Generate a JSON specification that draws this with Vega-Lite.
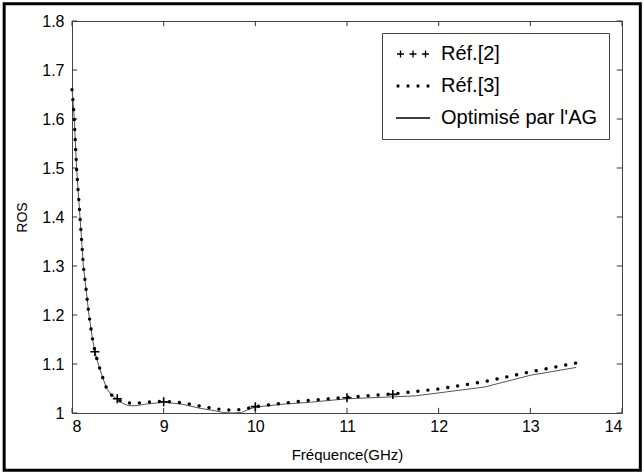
{
  "$schema": "https://vega.github.io/schema/vega-lite/v6.json",
  "width": 550,
  "height": 392,
  "autosize": {"type": "none"},
  "padding": {"left": 72, "top": 21, "right": 22, "bottom": 61},
  "background": "white",
  "config": {
    "font": "Liberation Sans",
    "view": {"stroke": "#444", "strokeWidth": 1},
    "axis": {"domain": false, "ticks": false, "grid": false, "labelFont": "Liberation Sans", "labelColor": "black", "labelFontSize": 16, "titleFont": "Liberation Sans", "titleFontWeight": "normal", "titleColor": "black"}
  },
  "datasets": {
    "curves": [
      {"series": "Optimisé par l'AG", "f": 8.0, "ros": 1.66},
      {"series": "Optimisé par l'AG", "f": 8.014, "ros": 1.63},
      {"series": "Optimisé par l'AG", "f": 8.025, "ros": 1.6},
      {"series": "Optimisé par l'AG", "f": 8.05, "ros": 1.5},
      {"series": "Optimisé par l'AG", "f": 8.087, "ros": 1.4},
      {"series": "Optimisé par l'AG", "f": 8.124, "ros": 1.3},
      {"series": "Optimisé par l'AG", "f": 8.155, "ros": 1.25},
      {"series": "Optimisé par l'AG", "f": 8.185, "ros": 1.2},
      {"series": "Optimisé par l'AG", "f": 8.22, "ros": 1.155},
      {"series": "Optimisé par l'AG", "f": 8.25, "ros": 1.125},
      {"series": "Optimisé par l'AG", "f": 8.287, "ros": 1.1},
      {"series": "Optimisé par l'AG", "f": 8.33, "ros": 1.075},
      {"series": "Optimisé par l'AG", "f": 8.378, "ros": 1.05},
      {"series": "Optimisé par l'AG", "f": 8.43, "ros": 1.037},
      {"series": "Optimisé par l'AG", "f": 8.494, "ros": 1.028},
      {"series": "Optimisé par l'AG", "f": 8.55, "ros": 1.02},
      {"series": "Optimisé par l'AG", "f": 8.614, "ros": 1.015},
      {"series": "Optimisé par l'AG", "f": 8.7, "ros": 1.015},
      {"series": "Optimisé par l'AG", "f": 8.8, "ros": 1.018},
      {"series": "Optimisé par l'AG", "f": 9.0, "ros": 1.022},
      {"series": "Optimisé par l'AG", "f": 9.2, "ros": 1.018},
      {"series": "Optimisé par l'AG", "f": 9.4, "ros": 1.0095},
      {"series": "Optimisé par l'AG", "f": 9.55, "ros": 1.005},
      {"series": "Optimisé par l'AG", "f": 9.65, "ros": 1.001},
      {"series": "Optimisé par l'AG", "f": 9.75, "ros": 1.0},
      {"series": "Optimisé par l'AG", "f": 9.85, "ros": 1.001},
      {"series": "Optimisé par l'AG", "f": 9.92, "ros": 1.007},
      {"series": "Optimisé par l'AG", "f": 10.0, "ros": 1.012},
      {"series": "Optimisé par l'AG", "f": 10.3, "ros": 1.018},
      {"series": "Optimisé par l'AG", "f": 10.6, "ros": 1.022},
      {"series": "Optimisé par l'AG", "f": 11.0, "ros": 1.029},
      {"series": "Optimisé par l'AG", "f": 11.5, "ros": 1.033},
      {"series": "Optimisé par l'AG", "f": 11.75, "ros": 1.035},
      {"series": "Optimisé par l'AG", "f": 12.0, "ros": 1.041},
      {"series": "Optimisé par l'AG", "f": 12.5, "ros": 1.053},
      {"series": "Optimisé par l'AG", "f": 13.0, "ros": 1.077},
      {"series": "Optimisé par l'AG", "f": 13.5, "ros": 1.093},

      {"series": "Réf.[3]", "f": 8.0, "ros": 1.66},
      {"series": "Réf.[3]", "f": 8.014, "ros": 1.63},
      {"series": "Réf.[3]", "f": 8.025, "ros": 1.6},
      {"series": "Réf.[3]", "f": 8.05, "ros": 1.5},
      {"series": "Réf.[3]", "f": 8.087, "ros": 1.4},
      {"series": "Réf.[3]", "f": 8.124, "ros": 1.3},
      {"series": "Réf.[3]", "f": 8.155, "ros": 1.25},
      {"series": "Réf.[3]", "f": 8.185, "ros": 1.2},
      {"series": "Réf.[3]", "f": 8.22, "ros": 1.155},
      {"series": "Réf.[3]", "f": 8.25, "ros": 1.125},
      {"series": "Réf.[3]", "f": 8.287, "ros": 1.1},
      {"series": "Réf.[3]", "f": 8.33, "ros": 1.075},
      {"series": "Réf.[3]", "f": 8.378, "ros": 1.05},
      {"series": "Réf.[3]", "f": 8.43, "ros": 1.037},
      {"series": "Réf.[3]", "f": 8.494, "ros": 1.028},
      {"series": "Réf.[3]", "f": 8.56, "ros": 1.021},
      {"series": "Réf.[3]", "f": 8.7, "ros": 1.02},
      {"series": "Réf.[3]", "f": 8.8, "ros": 1.022},
      {"series": "Réf.[3]", "f": 9.0, "ros": 1.024},
      {"series": "Réf.[3]", "f": 9.2, "ros": 1.021},
      {"series": "Réf.[3]", "f": 9.4, "ros": 1.014},
      {"series": "Réf.[3]", "f": 9.55, "ros": 1.009},
      {"series": "Réf.[3]", "f": 9.7, "ros": 1.006},
      {"series": "Réf.[3]", "f": 9.85, "ros": 1.007},
      {"series": "Réf.[3]", "f": 10.0, "ros": 1.013},
      {"series": "Réf.[3]", "f": 10.3, "ros": 1.02},
      {"series": "Réf.[3]", "f": 10.6, "ros": 1.026},
      {"series": "Réf.[3]", "f": 11.0, "ros": 1.032},
      {"series": "Réf.[3]", "f": 11.5, "ros": 1.039},
      {"series": "Réf.[3]", "f": 12.0, "ros": 1.049},
      {"series": "Réf.[3]", "f": 12.5, "ros": 1.064},
      {"series": "Réf.[3]", "f": 13.0, "ros": 1.084},
      {"series": "Réf.[3]", "f": 13.5, "ros": 1.102},

      {"series": "Réf.[2]", "f": 8.25, "ros": 1.125},
      {"series": "Réf.[2]", "f": 8.494, "ros": 1.029},
      {"series": "Réf.[2]", "f": 9.0, "ros": 1.023},
      {"series": "Réf.[2]", "f": 10.0, "ros": 1.013},
      {"series": "Réf.[2]", "f": 11.0, "ros": 1.031},
      {"series": "Réf.[2]", "f": 11.5, "ros": 1.038}
    ],
    "xticks": [{"t": 8}, {"t": 9}, {"t": 10}, {"t": 11}, {"t": 12}, {"t": 13}, {"t": 14}],
    "yticks": [{"t": 1}, {"t": 1.1}, {"t": 1.2}, {"t": 1.3}, {"t": 1.4}, {"t": 1.5}, {"t": 1.6}, {"t": 1.7}, {"t": 1.8}]
  },
  "layer": [
    {
      "data": {"name": "curves"},
      "transform": [{"filter": "datum.series === \"Optimisé par l'AG\""}],
      "mark": {"type": "line", "color": "#555", "strokeWidth": 1},
      "encoding": {
        "x": {"field": "f", "type": "quantitative", "scale": {"domain": [8, 14], "nice": false, "zero": false},
              "axis": {"orient": "bottom", "values": [8, 9, 10, 11, 12, 13, 14], "labelPadding": 5, "title": "Fréquence(GHz)", "titleFontSize": 15, "titlePadding": 13}},
        "y": {"field": "ros", "type": "quantitative", "scale": {"domain": [1, 1.8], "nice": false, "zero": false},
              "axis": {"orient": "left", "values": [1, 1.1, 1.2, 1.3, 1.4, 1.5, 1.6, 1.7, 1.8], "format": "~g", "labelPadding": 8, "title": "ROS", "titleFontSize": 14, "titlePadding": 12}}
      }
    },
    {
      "data": {"name": "xticks"},
      "mark": {"type": "rule", "color": "#333", "strokeWidth": 1},
      "encoding": {
        "x": {"field": "t", "type": "quantitative", "axis": null},
        "y": {"datum": 1, "type": "quantitative", "axis": null},
        "y2": {"datum": 1.0105}
      }
    },
    {
      "data": {"name": "xticks"},
      "mark": {"type": "rule", "color": "#333", "strokeWidth": 1},
      "encoding": {
        "x": {"field": "t", "type": "quantitative", "axis": null},
        "y": {"datum": 1.7895, "type": "quantitative", "axis": null},
        "y2": {"datum": 1.8}
      }
    },
    {
      "data": {"name": "yticks"},
      "mark": {"type": "rule", "color": "#333", "strokeWidth": 1},
      "encoding": {
        "y": {"field": "t", "type": "quantitative", "axis": null},
        "x": {"datum": 8, "type": "quantitative", "axis": null},
        "x2": {"datum": 8.057}
      }
    },
    {
      "data": {"name": "yticks"},
      "mark": {"type": "rule", "color": "#333", "strokeWidth": 1},
      "encoding": {
        "y": {"field": "t", "type": "quantitative", "axis": null},
        "x": {"datum": 13.943, "type": "quantitative", "axis": null},
        "x2": {"datum": 14}
      }
    },
    {
      "data": {"name": "curves"},
      "transform": [{"filter": "datum.series === 'Réf.[3]'"}],
      "mark": {"type": "line", "color": "black", "strokeWidth": 3.4, "strokeCap": "round", "strokeDash": [0.01, 10]},
      "encoding": {
        "x": {"field": "f", "type": "quantitative", "axis": null},
        "y": {"field": "ros", "type": "quantitative", "axis": null}
      }
    },
    {
      "data": {"name": "curves"},
      "transform": [{"filter": "datum.series === 'Réf.[2]'"}],
      "mark": {"type": "point", "shape": "M-1,0H1M0,-1V1", "size": 81, "filled": false, "stroke": "black", "strokeWidth": 1.6, "opacity": 1},
      "encoding": {
        "x": {"field": "f", "type": "quantitative", "axis": null},
        "y": {"field": "ros", "type": "quantitative", "axis": null}
      }
    },
    {
      "data": {"name": "curves"},
      "transform": [{"filter": "datum.ros > 5"}],
      "mark": {"type": "point", "filled": false, "color": "black", "strokeWidth": 1.3, "opacity": 1},
      "encoding": {
        "x": {"field": "f", "type": "quantitative", "axis": null},
        "y": {"field": "ros", "type": "quantitative", "axis": null},
        "shape": {
          "field": "series", "type": "nominal",
          "scale": {
            "domain": ["Réf.[2]", "Réf.[3]", "Optimisé par l'AG"],
            "range": [
              "M-3.2,0H-1.8M-2.5,-0.7V0.7M-0.7,0H0.7M0,-0.7V0.7M1.8,0H3.2M2.5,-0.7V0.7",
              "M-3.15,-0.15h0.3v0.3h-0.3zM-1.15,-0.15h0.3v0.3h-0.3zM0.85,-0.15h0.3v0.3h-0.3zM2.85,-0.15h0.3v0.3h-0.3z",
              "M-3.4,0H3.4"
            ]
          },
          "legend": {
            "orient": "none", "legendX": 310, "legendY": 12, "title": null,
            "strokeColor": "#444", "fillColor": "white", "padding": 11,
            "symbolSize": 100, "symbolOffset": 10, "labelOffset": 18, "rowPadding": 12,
            "labelFont": "Liberation Sans", "labelFontSize": 20, "labelColor": "black",
            "symbolStrokeColor": "black", "symbolStrokeWidth": 1.3, "symbolOpacity": 1
          }
        }
      }
    },
    {
      "data": {"values": [{}]},
      "mark": {"type": "rect", "fillOpacity": 0, "stroke": "black", "strokeWidth": 3, "clip": false},
      "encoding": {
        "x": {"datum": 7.26, "type": "quantitative", "scale": {"domain": [8, 14], "nice": false, "zero": false}, "axis": null},
        "x2": {"datum": 14.2},
        "y": {"datum": 0.883, "type": "quantitative", "scale": {"domain": [1, 1.8], "nice": false, "zero": false}, "axis": null},
        "y2": {"datum": 1.835}
      }
    }
  ],
  "resolve": {"axis": {"x": "independent", "y": "independent"}}
}
